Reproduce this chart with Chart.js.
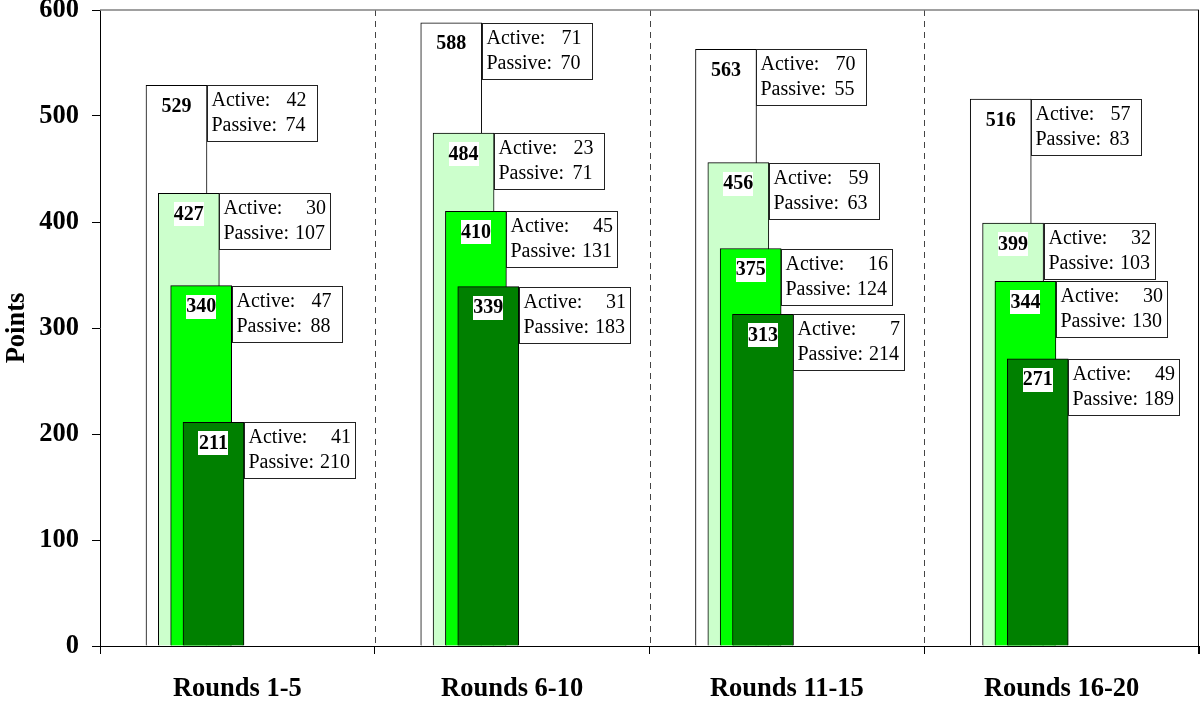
<!DOCTYPE html>
<html><head><meta charset="utf-8">
<script src="https://cdn.jsdelivr.net/npm/chart.js@4/dist/chart.umd.min.js"></script>
<style>html,body{margin:0;padding:0;background:#fff}#wrap{width:1201px;height:702px}</style>
</head><body><div id="wrap"><canvas id="c" width="1201" height="702"></canvas></div>
<script>
const categories = ['Rounds 1-5', 'Rounds 6-10', 'Rounds 11-15', 'Rounds 16-20'];
const yTicks = [0, 100, 200, 300, 400, 500, 600];
const points1 = [529, 588, 563, 516];
const points2 = [427, 484, 456, 399];
const points3 = [340, 410, 375, 344];
const points4 = [211, 339, 313, 271];
const active1 = [42, 71, 70, 57];
const passive1 = [74, 70, 55, 83];
const active2 = [30, 23, 59, 32];
const passive2 = [107, 71, 63, 103];
const active3 = [47, 45, 16, 30];
const passive3 = [88, 131, 124, 130];
const active4 = [41, 31, 7, 49];
const passive4 = [210, 183, 214, 189];
const seriesColors = ['#ffffff', '#ccffcc', '#00ff00', '#008000'];

const seriesPoints = [points1, points2, points3, points4];
const seriesActive = [active1, active2, active3, active4];
const seriesPassive = [passive1, passive2, passive3, passive4];

const FONT = '"Liberation Serif", "Times New Roman", serif';
const AXIS_FONT_SIZE = 26.5;
const firstOffset = 0.2784, stepOffset = 0.0449;

const datasets = seriesPoints.map((pts, s) => ({
  data: pts.map((v, i) => ({ x: i + firstOffset + s * stepOffset, y: v })),
  backgroundColor: seriesColors[s],
  borderColor: '#000',
  borderWidth: 1,
  barThickness: 61,
  grouped: false,
  order: 4 - s
}));

const extras = {
  id: 'extras',
  beforeDatasetsDraw(chart) {
    const { ctx, chartArea: a, scales: { x } } = chart;
    ctx.save();
    ctx.strokeStyle = '#444';
    ctx.lineWidth = 1;
    ctx.setLineDash([6, 5]);
    for (let i = 1; i < categories.length; i++) {
      const px = Math.round(x.getPixelForValue(i)) + 0.5;
      ctx.beginPath(); ctx.moveTo(px, a.top); ctx.lineTo(px, a.bottom); ctx.stroke();
    }
    ctx.setLineDash([]);
    ctx.strokeStyle = '#808080';
    ctx.lineWidth = 1.5;
    ctx.beginPath(); ctx.moveTo(a.left, a.top); ctx.lineTo(a.right, a.top); ctx.stroke();
    ctx.strokeStyle = '#000';
    ctx.lineWidth = 1;
    ctx.beginPath(); ctx.moveTo(a.right - 0.5, a.top); ctx.lineTo(a.right - 0.5, a.bottom + 8); ctx.stroke();
    ctx.restore();
  },
  afterDatasetsDraw(chart) {
    const { ctx } = chart;
    ctx.save();
    for (let s = 0; s < seriesPoints.length; s++) {
      const meta = chart.getDatasetMeta(s);
      meta.data.forEach((bar, i) => {
        const top = bar.y;
        const right = bar.x + bar.width / 2;
        // value label
        ctx.fillStyle = '#fff';
        ctx.fillRect(Math.round(bar.x - 15), Math.round(top + 9), 30, 24);
        ctx.fillStyle = '#000';
        ctx.font = 'bold 20px ' + FONT;
        ctx.textAlign = 'center';
        ctx.textBaseline = 'middle';
        ctx.fillText(String(seriesPoints[s][i]), bar.x, top + 21.5);
        // annotation box
        ctx.font = '20px ' + FONT;
        const bx = Math.round(right) + 0.5, by = Math.round(top) + 0.5;
        const need = 4 + ctx.measureText('Passive: ' + seriesPassive[s][i]).width + 1;
        const numX = Math.max(98, need);
        const bw = Math.max(110, Math.ceil(numX + 5));
        ctx.fillStyle = '#fff';
        ctx.fillRect(bx, by, bw, 56);
        ctx.strokeStyle = '#222';
        ctx.lineWidth = 1;
        ctx.strokeRect(bx, by, bw, 56);
        ctx.fillStyle = '#000';
        ctx.textBaseline = 'alphabetic';
        ctx.textAlign = 'left';
        ctx.fillText('Active:', bx + 4, by + 20);
        ctx.fillText('Passive:', bx + 4, by + 45);
        ctx.textAlign = 'right';
        ctx.fillText(String(seriesActive[s][i]), bx + numX + 1, by + 20);
        ctx.fillText(String(seriesPassive[s][i]), bx + numX, by + 45);
      });
    }
    ctx.restore();
  }
};

new Chart(document.getElementById('c'), {
  type: 'bar',
  data: { datasets },
  options: {
    responsive: false,
    animation: false,
    layout: { padding: { top: 10, right: 2, left: 0, bottom: 0 } },
    plugins: { legend: { display: false }, tooltip: { enabled: false } },
    scales: {
      x: {
        type: 'linear',
        min: 0,
        max: categories.length,
        offset: false,
        afterBuildTicks: (sc) => {
          const t = [];
          for (let i = 0; i <= categories.length; i++) {
            t.push({ value: i });
            if (i < categories.length) t.push({ value: i + 0.5 });
          }
          sc.ticks = t;
        },
        afterFit: (sc) => { sc.height = 56; sc.paddingLeft = 0; sc.paddingRight = 0; },
        ticks: {
          autoSkip: false,
          maxRotation: 0,
          padding: 19,
          color: '#000',
          font: { family: FONT, size: AXIS_FONT_SIZE, weight: 'bold' },
          callback: (v) => Number.isInteger(v) ? '' : categories[Math.floor(v)]
        },
        grid: {
          offset: false,
          drawOnChartArea: false,
          drawTicks: true,
          tickLength: 8,
          tickColor: (c) => (c.tick && Number.isInteger(c.tick.value)) ? '#000' : 'rgba(0,0,0,0)',
          color: 'rgba(0,0,0,0)'
        },
        border: { display: true, color: '#000', width: 1 }
      },
      y: {
        min: 0,
        max: 600,
        afterBuildTicks: (sc) => { sc.ticks = yTicks.map(v => ({ value: v })); },
        afterFit: (sc) => { sc.width = 100; sc.paddingTop = 0; sc.paddingBottom = 0; },
        ticks: {
          padding: 13,
          color: '#000',
          font: { family: FONT, size: AXIS_FONT_SIZE, weight: 'bold' }
        },
        grid: { drawOnChartArea: false, drawTicks: true, tickLength: 8, tickColor: '#000' },
        border: { display: true, color: '#000', width: 1 },
        title: {
          display: true,
          text: 'Points',
          color: '#000',
          padding: { top: 1, bottom: 0 },
          font: { family: FONT, size: AXIS_FONT_SIZE, weight: 'bold' }
        }
      }
    }
  },
  plugins: [extras]
});
</script>
</body></html>
